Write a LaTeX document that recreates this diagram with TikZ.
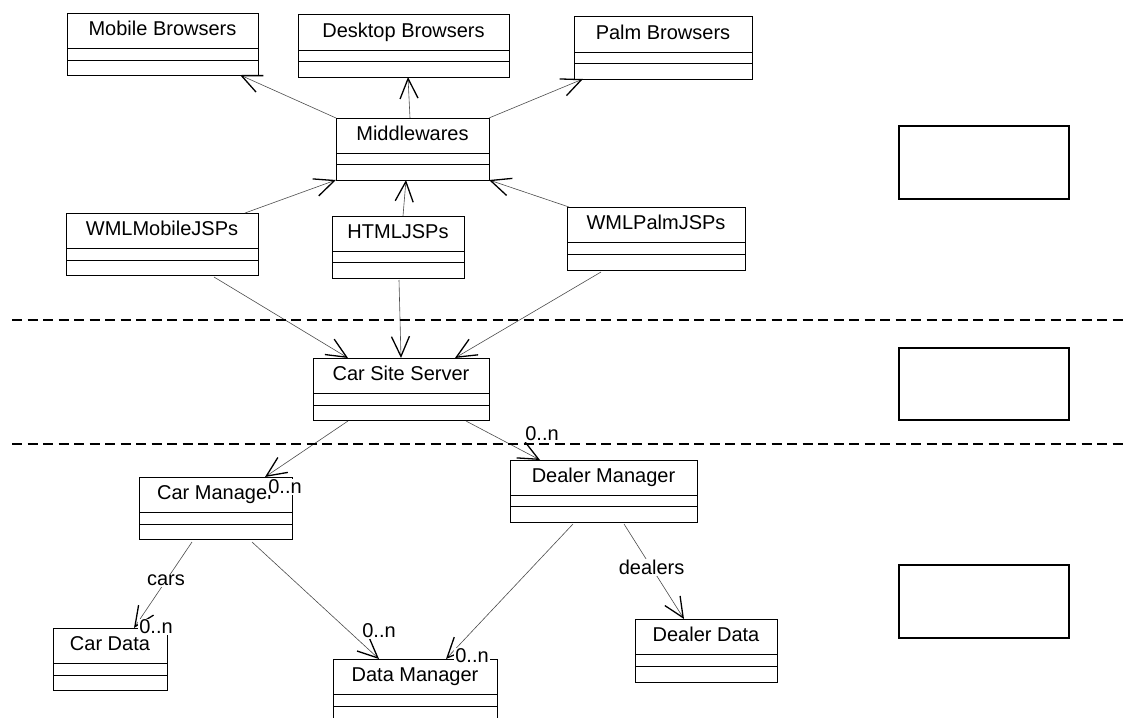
\documentclass[tikz,border=0pt]{standalone}
\usepackage{fontspec}
\setmainfont{Liberation Sans}
\usetikzlibrary{arrows.meta,calc}

\tikzset{
  classbox/.style={draw=black, line width=0.9pt, inner sep=0pt, outer sep=0pt, anchor=north west},
  classname/.style={anchor=base, inner sep=0pt, font=\fontsize{20}{24}\selectfont},
  compline/.style={draw=black, line width=0.9pt},
  assoc/.style={draw=black!70, line width=0.6pt,
    -{Straight Barb[length=20pt,width=18pt,line width=1.3pt,color=black]}},
  rolelabel/.style={fill=white, inner sep=1pt, font=\fontsize{20}{24}\selectfont},
  tierline/.style={draw=black, line width=1.8pt, dash pattern=on 10pt off 5.5pt},
  tierbox/.style={draw=black, line width=2pt, inner sep=0pt, outer sep=0pt, anchor=north west}
}

% three-compartment UML class:
% name, left, top, right, bottom, first divider, second divider, title
\newcommand\umlclass[8]{%
  \node[classbox, minimum width=#4pt-#2pt, minimum height=#5pt-#3pt] (#1) at (#2,#3) {};
  \draw[compline] ([yshift=#3pt-#6pt]#1.north west) -- ([yshift=#3pt-#6pt]#1.north east);
  \draw[compline] ([yshift=#3pt-#7pt]#1.north west) -- ([yshift=#3pt-#7pt]#1.north east);
  \node[classname] at ([yshift=#3pt-#6pt+13pt]#1.north) {#8};
}

\begin{document}
\begin{tikzpicture}[x=1pt,y=-1pt]
\useasboundingbox (0,0) rectangle (1128,718);

% presentation tier
\umlclass{mb}{67}{13}{258}{75}{48}{60}{Mobile Browsers}
\umlclass{db}{298}{14}{509}{77}{50}{61}{Desktop Browsers}
\umlclass{pb}{574}{16}{752}{79}{52}{63}{Palm Browsers}
\umlclass{mw}{336}{118}{489}{180}{153}{164}{Middlewares}
\umlclass{wm}{66}{213}{258}{275}{248}{260}{WMLMobileJSPs}
\umlclass{hj}{332}{216}{464}{278}{251}{262}{HTMLJSPs}
\umlclass{wp}{567}{207}{745}{270}{242}{254}{WMLPalmJSPs}

% server tier
\umlclass{cs}{313}{358}{489}{420}{393}{405}{Car Site Server}

% data tier
\umlclass{cm}{139}{477}{292}{539}{512}{524}{Car Manager}
\umlclass{dm}{510}{460}{697}{522}{495}{506}{Dealer Manager}
\umlclass{cd}{53}{628}{167}{690}{663}{675}{Car Data}
\umlclass{da}{333}{659}{497}{721}{694}{706}{Data Manager}
\umlclass{dd}{635}{619}{777}{682}{654}{666}{Dealer Data}

% navigable associations
\draw[assoc] (mw.north west) -- ([xshift=-18pt]mb.south east);
\draw[assoc] ([xshift=-2.5pt]mw.north) -- ([xshift=4.5pt]db.south);
\draw[assoc] (mw.north east) -- ([xshift=9pt]pb.south west);
\draw[assoc] ([xshift=-13pt]wm.north east) -- (mw.south west);
\draw[assoc] ([xshift=5pt]hj.north) -- ([xshift=-6.5pt]mw.south);
\draw[assoc] ([xshift=2pt]wp.north west) -- (mw.south east);
\draw[assoc] ([xshift=-44pt,yshift=-2pt]wm.south east) -- ([xshift=35pt]cs.north west);
\draw[assoc] ([xshift=1pt,yshift=-2pt]hj.south) -- (cs.north);
\draw[assoc] ([xshift=34pt,yshift=-2pt]wp.south west) -- ([xshift=-34pt]cs.north east);
\draw[assoc] ([xshift=35pt,yshift=-1pt]cs.south west) -- ([xshift=-27pt]cm.north east);
\draw[assoc] ([xshift=-23pt,yshift=-1pt]cs.south east) -- ([xshift=30pt]dm.north west);
\draw[assoc] ([xshift=53pt,yshift=-3pt]cm.south west) -- node[rolelabel, pos=0.45] (cars) {cars} ([xshift=-33pt]cd.north east);
\draw[assoc] ([xshift=-40pt,yshift=-3pt]cm.south east) -- ([xshift=46pt]da.north west);
\draw[assoc] ([xshift=63pt,yshift=-2pt]dm.south west) -- ([xshift=-51pt]da.north east);
\draw[assoc] ([xshift=-73pt,yshift=-2pt]dm.south east) -- node[rolelabel, pos=0.46] (dealers) {dealers} ([xshift=49pt]dd.north west);

% multiplicities
\node[rolelabel] (mcm) at (285,487) {0..n};
\node[rolelabel] (mdm) at (542,434) {0..n};
\node[rolelabel] (mcd) at (156,627) {0..n};
\node[rolelabel] (mda1) at (379,631) {0..n};
\node[rolelabel] (mda2) at (472,656) {0..n};

% tier separators
\draw[tierline] (12,320) -- (1128,320);
\draw[tierline] (12,444) -- (1128,444);

% tier markers
\node[tierbox, minimum width=170pt, minimum height=73pt] (t1) at (899,126) {};
\node[tierbox, minimum width=170pt, minimum height=72pt] (t2) at (899,348) {};
\node[tierbox, minimum width=170pt, minimum height=73pt] (t3) at (899,565) {};
\end{tikzpicture}
\end{document}
